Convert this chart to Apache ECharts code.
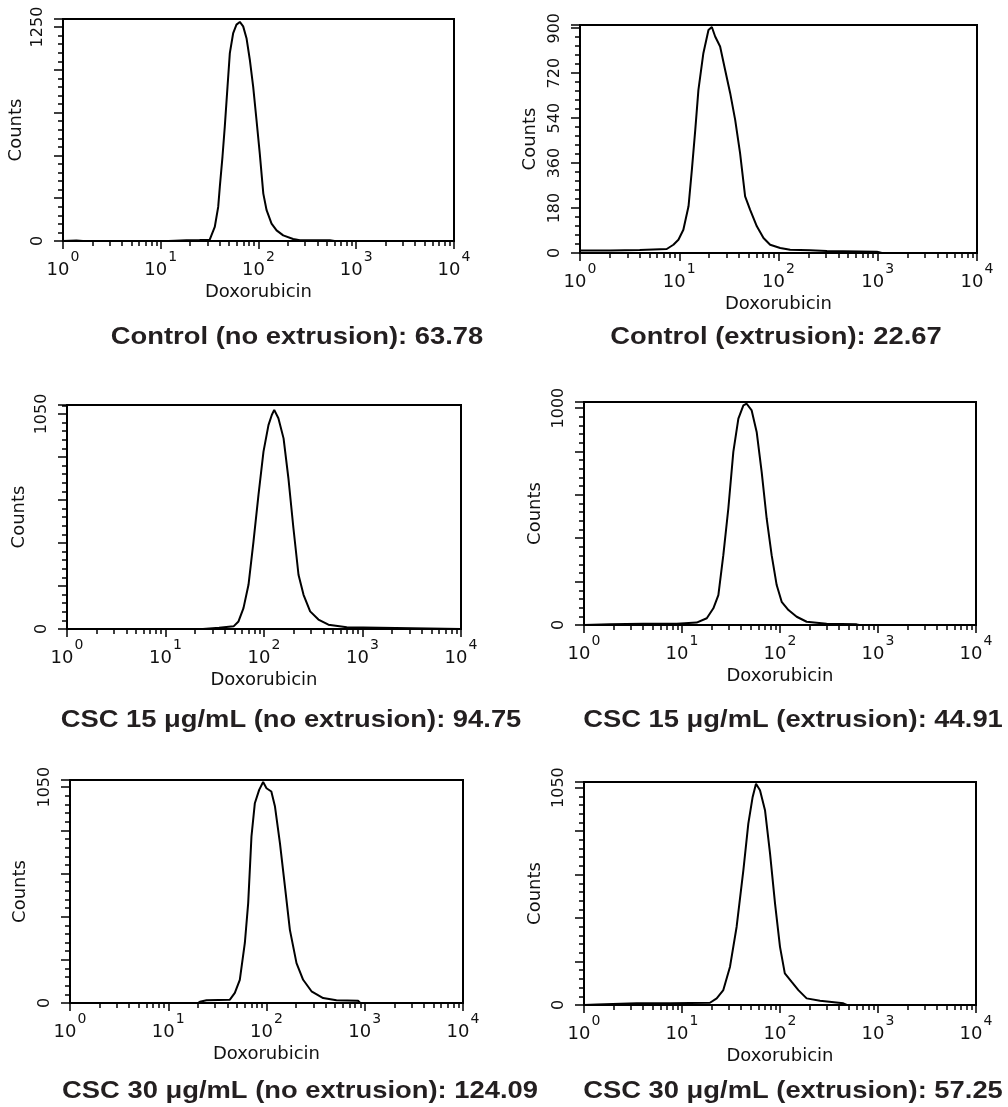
<!DOCTYPE html>
<html>
<head>
	<meta charset="utf-8">
	<title>Doxorubicin uptake histograms</title>
	<script src="https://cdn.jsdelivr.net/npm/echarts@6.0.0/dist/echarts.min.js"></script>
	<style type="text/css">
		html, body { margin: 0; padding: 0; background: #ffffff; }
		#chartContainer { width: 1008px; height: 1107px; }
	</style>
</head>
<body>
<div id="chartContainer"></div>
<script type="text/javascript">
	// Control (no extrusion)
	var p1Dox = [1, 1.37, 1.6, 12, 13.9, 18.3, 25, 31.7, 35.7, 38.7, 40.2, 42.8, 45.2, 48.2, 50.9, 55.1, 59.5, 64.4, 69.7, 75.4, 81.5, 88.2, 95.4, 103, 112, 121, 136, 153, 179, 226, 265, 424, 537, 600, 10000];
	var p1Counts = [0, 3, 0, 0, 2, 4, 6, 8, 82, 199, 316, 492, 668, 902, 1098, 1215, 1264, 1280, 1254, 1185, 1059, 902, 707, 512, 277, 180, 102, 62, 33, 12, 4, 4, 4, 0, 0];
	// Control (extrusion)
	var p2Dox = [1, 2, 4, 7.48, 8.73, 9.81, 11.0, 12.4, 13.4, 14.5, 15.6, 17.5, 19.7, 21.3, 23.0, 25.8, 29.0, 32.6, 36.6, 41.0, 46.1, 51.8, 60.5, 70.6, 82.4, 104, 131, 208, 307, 982, 1100, 10000];
	var p2Counts = [10, 10, 12, 16, 33, 53, 93, 187, 333, 493, 653, 800, 893, 905, 867, 827, 733, 640, 533, 400, 227, 173, 107, 60, 33, 20, 13, 11, 8, 5, 0, 0];
	// CSC 15 (no extrusion)
	var p3Dox = [1, 24, 24.3, 35, 49.1, 55.1, 61.9, 69.6, 78.2, 87.9, 98.8, 111, 120, 127, 140, 158, 177, 199, 224, 252, 294, 357, 451, 692, 720, 10000];
	var p3Counts = [0, 0, 5, 6, 13, 37, 102, 216, 427, 655, 866, 996, 1045, 1070, 1029, 931, 736, 492, 265, 167, 86, 46, 21, 8, 0, 0];
	// CSC 15 (extrusion)
	var p4Dox = [1, 1.84, 4.03, 8.83, 14.1, 17.9, 20.9, 23.5, 26.4, 29.7, 33.4, 37.6, 42.3, 45.7, 51.4, 57.8, 65.0, 73.1, 82.2, 92.5, 104, 122, 148, 187, 299, 605, 640, 10000];
	var p4Counts = [0, 3, 6, 6, 11, 31, 77, 138, 322, 537, 798, 951, 1012, 1020, 989, 890, 706, 491, 322, 184, 107, 69, 38, 15, 6, 3, 0, 0];
	// CSC 30 (no extrusion)
	var p5Dox = [1, 20, 21.0, 24.5, 42.4, 47.6, 53.5, 60.2, 65.1, 70.3, 76.1, 84.2, 92.4, 100, 112, 122, 137, 154, 173, 202, 236, 287, 377, 515, 855, 900, 10000];
	var p5Counts = [0, 0, 6, 13, 16, 49, 113, 292, 486, 810, 972, 1037, 1075, 1045, 1029, 956, 778, 567, 356, 194, 113, 57, 24, 13, 11, 0, 0];
	// CSC 30 (extrusion)
	var p6Dox = [1, 1.35, 3.45, 7.55, 19.3, 22.6, 26.4, 30.9, 36.1, 42.3, 47.5, 52.6, 56.9, 62.5, 70.3, 79.1, 89.0, 100, 112, 131, 154, 187, 256, 443, 480, 10000];
	var p6Counts = [0, 3, 8, 8, 11, 32, 72, 185, 378, 651, 876, 1005, 1069, 1037, 941, 732, 490, 281, 153, 113, 72, 32, 21, 8, 0, 0];

	var captions = [
		'Control (no extrusion): 63.78',
		'Control (extrusion): 22.67',
		'CSC 15 \u03bcg/mL (no extrusion): 94.75',
		'CSC 15 \u03bcg/mL (extrusion): 44.91',
		'CSC 30 \u03bcg/mL (no extrusion): 124.09',
		'CSC 30 \u03bcg/mL (extrusion): 57.25'
	];
	var yTickLabels = [
		[0, 1250],
		[0, 180, 360, 540, 720, 900],
		[0, 1050],
		[0, 1000],
		[0, 1050],
		[0, 1050]
	];
	var yTickStep = [250, 180, 210, 200, 210, 210];
	var xName = 'Doxorubicin';
	var yName = 'Counts';

	var doxSets = [p1Dox, p2Dox, p3Dox, p4Dox, p5Dox, p6Dox];
	var countSets = [p1Counts, p2Counts, p3Counts, p4Counts, p5Counts, p6Counts];

	// layout of each plot box (px) and caption anchor
	var panels = [
		{left: 63, top: 19, width: 391, height: 222, yMax: 1297, nameGap: 38, capX: 297, capY: 337},
		{left: 580, top: 25, width: 397, height: 228, yMax: 913, nameGap: 41, capX: 776, capY: 337},
		{left: 67, top: 405, width: 394, height: 224, yMax: 1094, nameGap: 39, capX: 291, capY: 720},
		{left: 584, top: 402, width: 392, height: 223, yMax: 1028, nameGap: 40, capX: 793, capY: 720},
		{left: 70, top: 780, width: 393, height: 223, yMax: 1085, nameGap: 41, capX: 300, capY: 1091},
		{left: 584, top: 782, width: 392, height: 223, yMax: 1077, nameGap: 40, capX: 793, capY: 1091}
	];

	// minor log ticks (2..9 in every decade), in decade units
	var minorLog = [];
	for (var d = 0; d < 4; d++) {
		for (var k = 2; k < 10; k++) minorLog.push(d + Math.log(k) / Math.LN10);
	}

	var axisFont = 'DejaVu Sans';
	var ink = '#111111';

	function showChart() {
		var myChart = echarts.init(document.getElementById('chartContainer'));
		var grids = [], xAxes = [], yAxes = [], series = [], texts = [];

		panels.forEach(function (p, i) {
			grids.push({
				left: p.left, top: p.top, width: p.width, height: p.height,
				show: true, borderColor: '#000', borderWidth: 2, backgroundColor: '#fff',
				containLabel: false, outerBoundsMode: 'none'
			});
			xAxes.push({
				gridIndex: i, type: 'log', logBase: 10, min: 1, max: 10000,
				position: 'bottom',
				axisLine: {show: true, lineStyle: {color: '#000', width: 2}},
				axisTick: {show: true, length: 8, lineStyle: {color: '#000', width: 1.5}},
				minorTick: {show: false},
				splitLine: {show: false},
				axisLabel: {
					margin: 9,
					lineHeight: 29,
					fontFamily: axisFont,
					fontSize: 18,
					color: ink,
					formatter: function (v) {
						var e = Math.round(Math.log(v) / Math.LN10);
						return '{base|10}{sup|' + e + '}';
					},
					rich: {
						base: {fontFamily: axisFont, fontSize: 18, color: ink, verticalAlign: 'bottom'},
						sup: {fontFamily: axisFont, fontSize: 14, color: ink, padding: [0, 0, 0, 1], verticalAlign: 'top'}
					}
				},
				name: xName, nameLocation: 'middle', nameGap: 42,
				nameTextStyle: {fontFamily: axisFont, fontSize: 18, color: ink}
			});
			xAxes.push({
				gridIndex: i, type: 'value', min: 0, max: 4,
				position: 'bottom', offset: 0,
				axisLine: {show: false},
				axisLabel: {show: false},
				splitLine: {show: false},
				axisTick: {show: true, customValues: minorLog, length: 5, lineStyle: {color: '#000', width: 1.5}}
			});
			yAxes.push({
				gridIndex: i, type: 'value', min: 0, max: p.yMax, interval: yTickStep[i],
				axisLine: {show: true, lineStyle: {color: '#000', width: 2}},
				axisTick: {show: true, length: 9, lineStyle: {color: '#000', width: 1.5}},
				minorTick: {show: true, splitNumber: 5, length: 5, lineStyle: {color: '#000', width: 1.5}},
				splitLine: {show: false},
				axisLabel: {
					rotate: 90, margin: 17, fontFamily: axisFont, fontSize: 16, color: ink,
					formatter: function (v) {
						return yTickLabels[i].indexOf(v) >= 0 ? String(v) : '';
					}
				},
				name: yName, nameLocation: 'middle', nameGap: p.nameGap,
				nameTextStyle: {fontFamily: axisFont, fontSize: 18, color: ink}
			});
			var pts = doxSets[i].map(function (x, j) { return [x, countSets[i][j]]; });
			series.push({
				type: 'line', xAxisIndex: 2 * i, yAxisIndex: i,
				data: pts, symbol: 'none', showSymbol: false, silent: true,
				lineStyle: {color: '#000', width: 2}
			});
			texts.push({
				type: 'text', x: p.capX, y: p.capY, scaleX: 1.14,
				style: {
					text: captions[i], fill: '#231f20',
					font: 'bold 24px "Liberation Sans", Arial, sans-serif',
					textAlign: 'center', textVerticalAlign: 'middle'
				}
			});
		});

		var option = {
			backgroundColor: '#ffffff',
			animation: false,
			grid: grids,
			xAxis: xAxes,
			yAxis: yAxes,
			series: series,
			graphic: texts
		};
		myChart.setOption(option);
	}
	showChart();
</script>
</body>
</html>
